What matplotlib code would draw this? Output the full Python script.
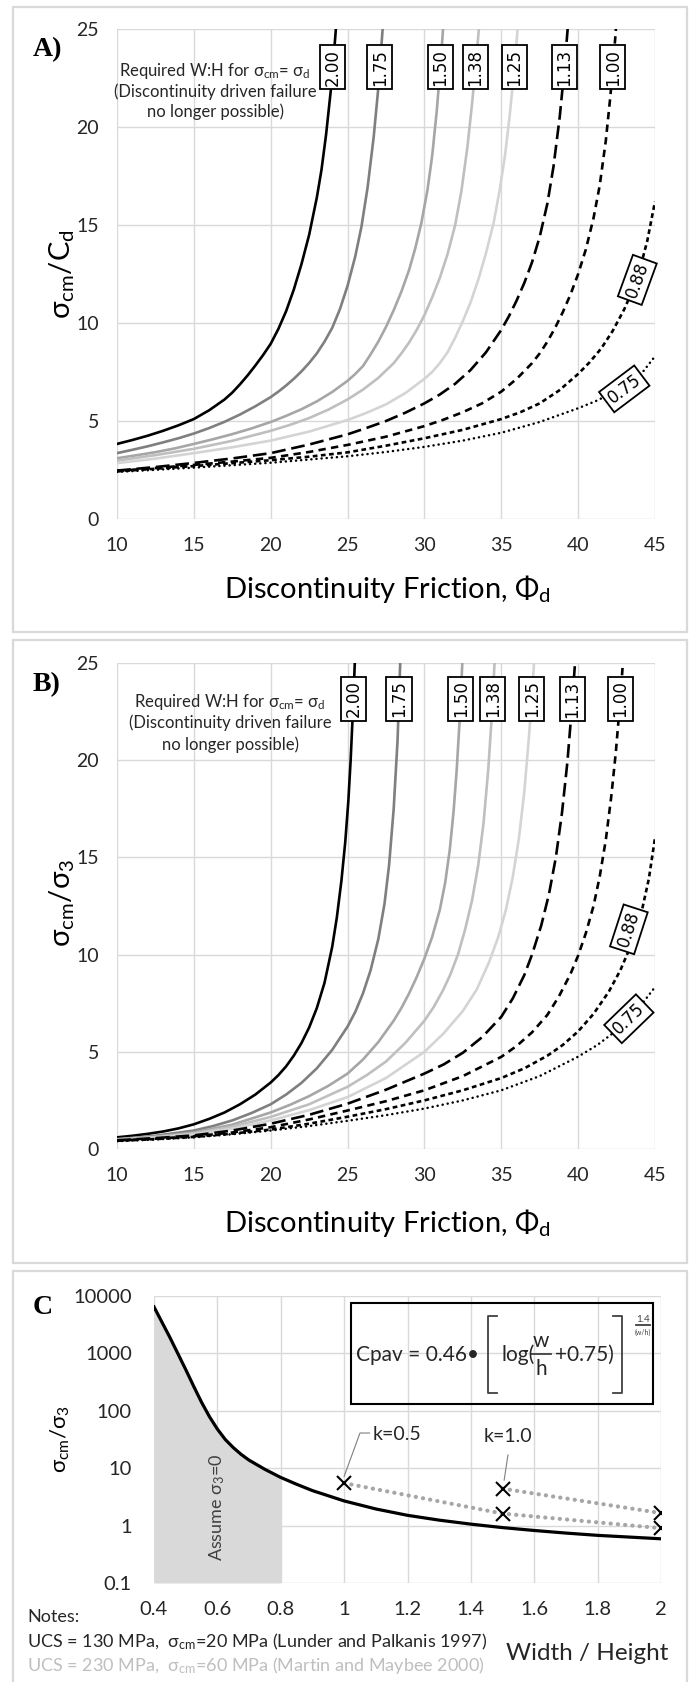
import numpy as np
import matplotlib
matplotlib.use("Agg")
from matplotlib import pyplot as plt
from matplotlib.patches import Rectangle
from matplotlib.lines import Line2D
from matplotlib.ticker import NullLocator

plt.rcParams['font.family'] = ['Lato', 'DejaVu Sans']
plt.rcParams['mathtext.fontset'] = 'custom'
plt.rcParams['mathtext.rm'] = 'Lato'
plt.rcParams['mathtext.it'] = 'Lato:italic'
plt.rcParams['mathtext.bf'] = 'Lato:bold'

# W:H curve names, same order in A and B
wh_names = ["2.00", "1.75", "1.50", "1.38", "1.25", "1.13", "1.00", "0.88", "0.75"]

# panel A: sigma_cm / C_d against discontinuity friction
a_phi_200 = [10, 11, 12, 13, 14, 15, 16, 17, 17.5, 18, 18.5, 19, 19.5, 20, 20.5, 21, 21.5, 22, 22.5, 23,
             23.3, 23.6, 23.9, 24.2, 24.35]
a_val_200 = [3.83, 4.03, 4.25, 4.5, 4.78, 5.1, 5.55, 6.1, 6.45, 6.87, 7.33, 7.83, 8.36, 8.94, 9.7, 10.6,
             11.7, 13.0, 14.5, 16.4, 17.8, 19.6, 21.8, 24.6, 26.2]
a_phi_175 = [10, 11, 12, 13, 14, 15, 16, 17, 18, 19, 20, 20.5, 21, 21.5, 22, 22.5, 23, 23.5, 24, 24.5, 25,
             25.5, 25.9, 26.3, 26.7, 27.0, 27.3, 27.45]
a_val_175 = [3.36, 3.53, 3.71, 3.91, 4.12, 4.36, 4.64, 4.96, 5.33, 5.75, 6.22, 6.5, 6.81, 7.15, 7.53, 7.96,
             8.45, 9.05, 9.75, 10.7, 11.9, 13.4, 14.9, 16.9, 19.5, 22.0, 25.2, 27.0]
a_phi_150 = [10, 11.25, 12.5, 13.75, 15, 16.25, 17.5, 18.75, 20, 21, 22, 23, 24, 25, 25.5, 26, 26.5, 27,
             27.5, 28, 28.5, 29, 29.4, 29.8, 30.2, 30.5, 30.8, 31.05, 31.3]
a_val_150 = [3.1, 3.25, 3.41, 3.6, 3.83, 4.07, 4.33, 4.62, 4.95, 5.26, 5.6, 6.0, 6.48, 7.05, 7.4, 7.8,
             8.4, 9.05, 9.8, 10.65, 11.6, 12.7, 13.8, 15.1, 16.8, 18.5, 20.8, 23.2, 26.0]
a_phi_138 = [10, 12.5, 15, 17.5, 20, 21.25, 22.5, 23.75, 25, 26, 27, 28, 28.5, 29, 29.5, 30, 30.5, 31,
             31.5, 32, 32.4, 32.8, 33.1, 33.4, 33.7]
a_val_138 = [2.98, 3.26, 3.58, 3.99, 4.5, 4.8, 5.15, 5.58, 6.1, 6.6, 7.2, 7.95, 8.45, 9.0, 9.65, 10.4,
             11.3, 12.3, 13.5, 15.0, 16.7, 19.0, 21.2, 23.7, 26.5]
a_phi_125 = [10, 12.5, 15, 17.5, 20, 22.5, 25, 26.25, 27.5, 28.75, 30, 30.5, 31, 31.5, 32, 32.5, 33,
             33.5, 34, 34.5, 34.9, 35.25, 35.55, 35.85, 36.15]
a_val_125 = [2.85, 3.08, 3.36, 3.66, 4.0, 4.46, 5.05, 5.42, 5.85, 6.42, 7.15, 7.5, 7.95, 8.5, 9.25, 10.1,
             11.05, 12.2, 13.55, 15.1, 16.8, 18.6, 20.6, 23.0, 25.8]
a_phi_113 = [10, 12.5, 15, 17.5, 20, 22.5, 25, 26.25, 27.5, 28.75, 30, 31, 32, 33, 34, 35, 35.5, 36,
             36.5, 37, 37.5, 38, 38.4, 38.8, 39.1, 39.4]
a_val_113 = [2.47, 2.65, 2.86, 3.09, 3.36, 3.8, 4.32, 4.65, 5.0, 5.42, 5.9, 6.35, 6.9, 7.6, 8.5, 9.65,
             10.35, 11.15, 12.05, 13.1, 14.4, 16.1, 18.0, 20.5, 22.9, 25.8]
a_phi_100 = [10, 12.5, 15, 17.5, 20, 22.5, 25, 27.5, 30, 31.25, 32.5, 33.75, 35, 36, 37, 37.5, 38, 38.5,
             39, 39.5, 40, 40.5, 41, 41.4, 41.8, 42.1, 42.4, 42.6]
a_val_100 = [2.45, 2.6, 2.76, 2.93, 3.12, 3.42, 3.78, 4.2, 4.74, 5.07, 5.45, 5.9, 6.5, 7.15, 7.95, 8.45,
             9.05, 9.75, 10.55, 11.45, 12.5, 13.75, 15.35, 17.0, 19.3, 21.6, 24.4, 26.5]
a_phi_088 = [10, 15, 20, 22.5, 25, 27.5, 30, 32.5, 35, 36.25, 37.5, 38.75, 40, 40.75, 41.5, 42.25, 43,
             43.5, 44, 44.5, 45]
a_val_088 = [2.43, 2.7, 3.0, 3.18, 3.4, 3.74, 4.12, 4.55, 5.1, 5.45, 5.9, 6.55, 7.4, 8.0, 8.7, 9.6, 10.7,
             11.6, 12.7, 14.2, 16.2]
a_phi_075 = [10, 15, 20, 25, 27.5, 30, 32.5, 35, 37.5, 40, 41.25, 42.5, 43.5, 44.25, 45]
a_val_075 = [2.4, 2.62, 2.87, 3.2, 3.42, 3.68, 4.0, 4.4, 4.95, 5.65, 6.05, 6.55, 7.05, 7.55, 8.3]

# panel B: sigma_cm / sigma_3 against discontinuity friction
b_phi_200 = [10, 11, 12, 13, 14, 15, 16, 17, 18, 19, 20, 20.5, 21, 21.5, 22, 22.5, 23, 23.5, 24, 24.3,
             24.6, 24.85, 25.05, 25.2, 25.35, 25.5]
b_val_200 = [0.6, 0.68, 0.78, 0.9, 1.06, 1.27, 1.55, 1.88, 2.3, 2.8, 3.42, 3.8, 4.25, 4.8, 5.45, 6.25,
             7.25, 8.55, 10.4, 11.9, 13.8, 15.8, 17.9, 20.0, 22.6, 25.6]
b_phi_175 = [10, 12.5, 15, 16.25, 17.5, 18.75, 20, 21, 22, 23, 24, 25, 25.5, 26, 26.5, 27, 27.4, 27.7,
             28.0, 28.25, 28.45]
b_val_175 = [0.5, 0.68, 0.95, 1.18, 1.47, 1.85, 2.3, 2.8, 3.4, 4.15, 5.1, 6.3, 7.05, 8.0, 9.2, 10.8,
             12.6, 14.6, 17.5, 21.0, 25.6]
b_phi_150 = [10, 12.5, 15, 17.5, 20, 21.25, 22.5, 23.75, 25, 26, 27, 28, 28.5, 29, 29.5, 30, 30.5, 31,
             31.35, 31.65, 31.9, 32.1, 32.3, 32.5]
b_val_150 = [0.5, 0.64, 0.85, 1.25, 1.88, 2.27, 2.72, 3.25, 3.88, 4.6, 5.5, 6.6, 7.25, 8.0, 8.85, 9.8,
             10.9, 12.3, 13.7, 15.4, 17.4, 19.5, 22.2, 25.6]
b_phi_138 = [10, 12.5, 15, 17.5, 20, 22.5, 25, 26.25, 27.5, 28.75, 30, 30.6, 31.2, 31.7, 32.2, 32.65,
             33.1, 33.5, 33.85, 34.15, 34.4, 34.6]
b_val_138 = [0.48, 0.61, 0.8, 1.15, 1.65, 2.3, 3.2, 3.8, 4.5, 5.45, 6.6, 7.3, 8.15, 9.0, 10.05, 11.3,
             12.8, 14.6, 16.8, 19.5, 22.5, 25.6]
b_phi_125 = [10, 12.5, 15, 17.5, 20, 22.5, 25, 27.5, 30, 31.25, 32.5, 33.4, 34.2, 34.8, 35.3, 35.75,
             36.15, 36.5, 36.8, 37.05, 37.25]
b_val_125 = [0.46, 0.58, 0.75, 1.05, 1.47, 2.0, 2.67, 3.65, 5.0, 5.95, 7.1, 8.2, 9.6, 10.9, 12.3, 14.0,
             16.0, 18.4, 21.2, 24.0, 26.5]
b_phi_113 = [10, 12.5, 15, 17.5, 20, 22.5, 25, 27.5, 30, 31.25, 32.5, 33.75, 35, 35.75, 36.5, 37.0,
             37.6, 38.1, 38.55, 38.95, 39.3, 39.6, 39.85]
b_val_113 = [0.45, 0.56, 0.7, 0.95, 1.3, 1.76, 2.33, 3.05, 3.88, 4.35, 4.95, 5.75, 6.8, 7.75, 8.95,
             10.0, 11.5, 13.1, 15.0, 17.3, 19.9, 22.8, 25.6]
b_phi_100 = [10, 12.5, 15, 17.5, 20, 22.5, 25, 27.5, 30, 32.5, 35, 36, 37, 38, 38.75, 39.5, 40.0, 40.5,
             41.0, 41.4, 41.8, 42.15, 42.45, 42.75, 43.0]
b_val_100 = [0.43, 0.53, 0.65, 0.85, 1.12, 1.52, 1.98, 2.46, 3.02, 3.75, 4.74, 5.3, 6.0, 6.9, 7.85,
             9.0, 9.95, 11.1, 12.5, 14.0, 15.9, 18.1, 20.4, 23.2, 26.0]
b_phi_088 = [10, 12.5, 15, 17.5, 20, 22.5, 25, 27.5, 30, 32.5, 35, 36.5, 38, 39, 40, 41, 42, 42.75,
             43.5, 44.1, 44.6, 45]
b_val_088 = [0.42, 0.51, 0.62, 0.79, 1.0, 1.3, 1.66, 2.05, 2.5, 3.02, 3.65, 4.15, 4.8, 5.35, 6.05,
             6.95, 8.1, 9.2, 10.6, 12.1, 13.9, 16.0]
b_phi_075 = [10, 12.5, 15, 17.5, 20, 22.5, 25, 27.5, 30, 32.5, 35, 37.5, 40, 41.25, 42.5, 43.75, 45]
b_val_075 = [0.4, 0.49, 0.6, 0.76, 0.95, 1.18, 1.45, 1.74, 2.08, 2.5, 3.02, 3.75, 4.75, 5.35, 6.1,
             7.05, 8.33]

# panel C: sigma_cm / sigma_3 against width / height
c_wh = [0.4, 0.45, 0.5, 0.525, 0.55, 0.575, 0.6, 0.625, 0.65, 0.675, 0.7, 0.75, 0.8, 0.85, 0.9, 1.0,
        1.1, 1.2, 1.3, 1.4, 1.5, 1.6, 1.7, 1.8, 1.9, 2.0]
c_ratio = [6460, 1905, 525, 269, 141, 79, 48, 31.6, 22.9, 17.4, 13.8, 9.55, 6.9, 5.25, 4.07, 2.69,
           1.95, 1.51, 1.245, 1.06, 0.923, 0.822, 0.741, 0.676, 0.631, 0.589]
k05_wh = [1.0, 1.5, 2.0]
k05_ratio = [5.5, 1.62, 0.9]
k10_wh = [1.5, 2.0]
k10_ratio = [4.4, 1.65]
c_xticks = [0.4, 0.6, 0.8, 1.0, 1.2, 1.4, 1.6, 1.8, 2.0]
c_xlabels = ["0.4", "0.6", "0.8", "1", "1.2", "1.4", "1.6", "1.8", "2"]
c_yticks = [0.1, 1, 10, 100, 1000, 10000]
c_ylabels = ["0.1", "1", "10", "100", "1000", "10000"]

# line looks for each W:H curve
curve_styles = [
    ("black", "-", 1.9),
    ("#7f7f7f", "-", 1.9),
    ("#a6a6a6", "-", 1.9),
    ("#bfbfbf", "-", 1.9),
    ("#d4d4d4", "-", 1.9),
    ("black", (0, (5.2, 2.2)), 1.9),
    ("black", (0, (2.8, 2.0)), 1.9),
    ("black", (0, (1.8, 1.3)), 1.9),
    ("black", (0, (0.05, 2.0)), 1.8),
]

W, H = 689, 1682
fig = plt.figure(figsize=(W / 100, H / 100), dpi=100)


def fx(x):
    return x / W


def fy(y):
    return 1 - y / H


# grey frames round the panels
for top, bottom in [(7, 632), (640, 1263), (1271, 1720)]:
    fig.add_artist(Rectangle((fx(13), fy(bottom)), fx(687) - fx(13), fy(top) - fy(bottom),
                             transform=fig.transFigure, fill=False, ec="#d9d9d9", lw=1.6))

tick_col = "#262626"
box_style = dict(boxstyle="square,pad=0.22", fc="white", ec="black", lw=1.3)


def phi_panel(ax, phis, vals, top_y, tilted):
    ax.set_xlim(10, 45)
    ax.set_ylim(0, 25)
    ax.set_xticks(range(10, 50, 5))
    ax.set_yticks(range(0, 30, 5))
    ax.grid(True, color="#d9d9d9", lw=1.0)
    ax.set_axisbelow(True)
    for s in ax.spines.values():
        s.set_visible(False)
    ax.tick_params(length=0, labelsize=14, colors=tick_col)
    ax.tick_params(axis="x", pad=13)
    ax.tick_params(axis="y", pad=13)
    for i, (name, p, v, st) in enumerate(zip(wh_names, phis, vals, curve_styles)):
        col, ls, lw = st
        ax.plot(p, v, color=col, ls=ls, lw=lw, dash_capstyle="round" if i == 8 else "butt")
        if i < 7:
            x = np.interp(top_y, v, p)
            ax.text(x, top_y, name, rotation=90, ha="center", va="center",
                    fontsize=12, family="DejaVu Sans", bbox=box_style, zorder=5)
        else:
            x, y, rot = tilted[name]
            ax.text(x, y, name, rotation=rot, ha="center", va="center",
                    fontsize=12, family="DejaVu Sans", bbox=box_style, zorder=5,
                    rotation_mode="anchor")


axA = fig.add_axes([fx(117), fy(519), fx(655) - fx(117), fy(29) - fy(519)])
phi_panel(axA,
          [a_phi_200, a_phi_175, a_phi_150, a_phi_138, a_phi_125, a_phi_113, a_phi_100, a_phi_088, a_phi_075],
          [a_val_200, a_val_175, a_val_150, a_val_138, a_val_125, a_val_113, a_val_100, a_val_088, a_val_075],
          23.05, {"0.88": (43.85, 12.2, 70), "0.75": (43.0, 6.64, 37)})

axB = fig.add_axes([fx(117), fy(1149), fx(655) - fx(117), fy(663) - fy(1149)])
phi_panel(axB,
          [b_phi_200, b_phi_175, b_phi_150, b_phi_138, b_phi_125, b_phi_113, b_phi_100, b_phi_088, b_phi_075],
          [b_val_200, b_val_175, b_val_150, b_val_138, b_val_125, b_val_113, b_val_100, b_val_088, b_val_075],
          23.15, {"0.88": (43.3, 11.3, 72), "0.75": (43.3, 6.7, 44)})

# labels and notes of A and B
fig.text(fx(33), fy(50), "A)", fontsize=20, fontweight="bold", family="Liberation Serif", va="center")
fig.text(fx(33), fy(685), "B)", fontsize=20, fontweight="bold", family="Liberation Serif", va="center")
fig.text(fx(62), fy(274), r"σ$_{\mathrm{cm}}$/C$_{\mathrm{d}}$", rotation=90, ha="center", va="center", fontsize=21)
fig.text(fx(62), fy(903), r"σ$_{\mathrm{cm}}$/σ$_{\mathrm{3}}$", rotation=90, ha="center", va="center", fontsize=21)
fig.text(fx(387), fy(598), r"Discontinuity Friction, Φ$_{\mathrm{d}}$", ha="center", va="baseline", fontsize=21)
fig.text(fx(387), fy(1232), r"Discontinuity Friction, Φ$_{\mathrm{d}}$", ha="center", va="baseline", fontsize=21)

note_lines = [r"Required W:H for σ$_{\mathrm{cm}}$= σ$_{\mathrm{d}}$",
              "(Discontinuity driven failure", "no longer possible)"]
for cx, ys in [(215, (71, 92, 112)), (230, (702, 723, 745))]:
    for line, y in zip(note_lines, ys):
        fig.text(fx(cx), fy(y), line, ha="center", va="center", fontsize=12, color="#262626")

# panel C
axC = fig.add_axes([fx(154), fy(1583), fx(661) - fx(154), fy(1296) - fy(1583)])
axC.set_yscale("log")
axC.set_xlim(0.4, 2.0)
axC.set_ylim(0.1, 10000)
axC.set_xticks(c_xticks)
axC.set_xticklabels(c_xlabels)
axC.set_yticks(c_yticks)
axC.set_yticklabels(c_ylabels)
axC.yaxis.set_minor_locator(NullLocator())
axC.grid(True, color="#d9d9d9", lw=1.0)
axC.set_axisbelow(True)
for s in axC.spines.values():
    s.set_visible(False)
axC.tick_params(length=0, labelsize=14.5, colors=tick_col)
axC.tick_params(axis="x", pad=13)
axC.tick_params(axis="y", pad=16)

wh = np.array(c_wh)
ratio = np.array(c_ratio)
shade = wh <= 0.8
axC.fill_between(wh[shade], 0.1, ratio[shade], color="#d9d9d9", lw=0, zorder=1)
axC.plot(c_wh, c_ratio, color="black", lw=2.3, zorder=3)
for xs, ys in [(k05_wh, k05_ratio), (k10_wh, k10_ratio)]:
    axC.plot(xs, ys, color="#a6a6a6", ls=(0, (0.05, 1.7)), lw=3.0, dash_capstyle="round", zorder=2)
    axC.plot(xs, ys, ls="none", marker="x", ms=10, mew=1.5, color="black", zorder=4)

axC.plot([1.0, 1.05, 1.08], [7.2, 41, 41], color="#7f7f7f", lw=0.8)
axC.text(1.09, 38, "k=0.5", va="center", fontsize=14, color="#262626")
axC.plot([1.517, 1.505], [17, 6.2], color="#7f7f7f", lw=0.8)
axC.text(1.44, 36, "k=1.0", va="center", fontsize=14, color="#262626")
axC.text(0.6, 2.1, r"Assume σ$_{\mathrm{3}}$=0", rotation=90, ha="center", va="center",
         fontsize=13, color="#404040")

fig.text(fx(33), fy(1308), "C", fontsize=20, fontweight="bold", family="Liberation Serif", va="center")
fig.text(fx(60), fy(1439), r"σ$_{\mathrm{cm}}$/σ$_{\mathrm{3}}$", rotation=90, ha="center", va="center", fontsize=16)

# formula box
fig.add_artist(Rectangle((fx(351), fy(1404)), fx(653) - fx(351), fy(1303) - fy(1404),
                         transform=fig.transFigure, fill=False, ec="black", lw=1.5))
fig.text(fx(356), fy(1361), "Cpav = 0.46•", fontsize=15, va="baseline", color="#262626")
br = "#404040"
for xs, ys in [([497, 488, 488, 497], [1316, 1316, 1393, 1393]),
               ([613, 622, 622, 613], [1316, 1316, 1393, 1393]),
               ([531, 551], [1354, 1354]),
               ([636, 650], [1325, 1325])]:
    fig.add_artist(Line2D([fx(x) for x in xs], [fy(y) for y in ys], transform=fig.transFigure,
                          color=br, lw=1.3))
fig.text(fx(501), fy(1361), "log(", fontsize=15, va="baseline", color="#262626")
fig.text(fx(541), fy(1341), "w", fontsize=15, ha="center", va="center", color="#262626")
fig.text(fx(541), fy(1369), "h", fontsize=15, ha="center", va="center", color="#262626")
fig.text(fx(555), fy(1361), "+0.75)", fontsize=15, va="baseline", color="#262626")
fig.text(fx(643), fy(1319), "1.4", fontsize=7, ha="center", va="center", color="#404040")
fig.text(fx(643), fy(1332), "(w/h)", fontsize=5, ha="center", va="center", color="#404040")

# notes under panel C
fig.text(fx(27), fy(1617), "Notes:", va="center", fontsize=13, color="#262626")
fig.text(fx(27), fy(1642), r"UCS = 130 MPa,  σ$_{\mathrm{cm}}$=20 MPa (Lunder and Palkanis 1997)",
         va="center", fontsize=13, color="#262626")
fig.text(fx(27), fy(1665), r"UCS = 230 MPa,  σ$_{\mathrm{cm}}$=60 MPa (Martin and Maybee 2000)",
         va="center", fontsize=13, color="#bfbfbf")
fig.text(fx(506), fy(1653), "Width / Height", va="center", fontsize=17.5, color="#262626")

fig.savefig("out.png", dpi=100)
